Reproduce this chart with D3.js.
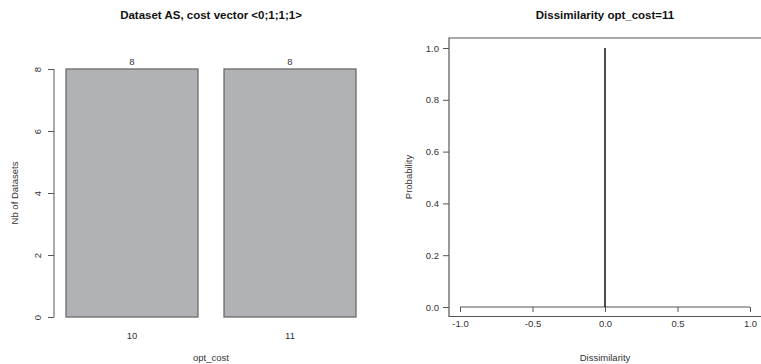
<!DOCTYPE html>
<html><head><meta charset="utf-8">
<script src="https://cdn.jsdelivr.net/npm/d3@7"></script>
<style>body{margin:0;background:#fff}svg{display:block;font-family:"Liberation Sans",Arial,sans-serif}</style>
</head><body><svg id="c" width="761" height="364"></svg>
<script>
const categories = ["10", "11"];
const counts = [8, 8];
const countTicks = [0, 2, 4, 6, 8];
const dissimValues = [0];
const probValues = [1];
const probTicks = [0, 0.2, 0.4, 0.6, 0.8, 1.0];
const dissimTicks = [-1, -0.5, 0, 0.5, 1];

const svg = d3.select("#c");
const axisCol = "#555";
const txtCol = "#333";
const fmt1 = v => d3.format(".1f")(v).replace("\u2212", "-");

// ---------- Left panel ----------
const xb = d3.scaleBand().domain(categories).range([66, 356]).paddingInner(0.1646).paddingOuter(0);
const yb = d3.scaleLinear().domain([0, 8]).range([317, 69]);

svg.append("text").attr("x", 211).attr("y", 19).attr("text-anchor", "middle")
  .attr("font-size", 11.5).attr("font-weight", "bold").attr("fill", "#111")
  .text("Dataset AS, cost vector <0;1;1;1>");

svg.selectAll("rect.bar").data(categories).enter().append("rect").attr("class", "bar")
  .attr("x", d => xb(d)).attr("width", xb.bandwidth())
  .attr("y", (d, i) => yb(counts[i])).attr("height", (d, i) => yb(0) - yb(counts[i]))
  .attr("fill", "#b1b2b5").attr("stroke", "#6a6a6a").attr("stroke-width", 1.3);

svg.selectAll("text.val").data(categories).enter().append("text").attr("class", "val")
  .attr("x", d => xb(d) + xb.bandwidth() / 2).attr("y", (d, i) => yb(counts[i]) - 4)
  .attr("text-anchor", "middle").attr("font-size", 9.5).attr("fill", txtCol)
  .text((d, i) => counts[i]);

svg.selectAll("text.cat").data(categories).enter().append("text").attr("class", "cat")
  .attr("x", d => xb(d) + xb.bandwidth() / 2).attr("y", 339)
  .attr("text-anchor", "middle").attr("font-size", 9.5).attr("fill", txtCol).text(d => d);

const gyl = svg.append("g").attr("transform", "translate(54,0)")
  .call(d3.axisLeft(yb).tickValues(countTicks).tickSize(6).tickFormat(d3.format("d")));
gyl.select(".domain").attr("stroke", axisCol).attr("d", `M0,${yb(0)}V${yb(8)}`);
gyl.selectAll(".tick line").attr("stroke", axisCol);
gyl.selectAll(".tick text").attr("font-size", 9.5).attr("fill", txtCol)
  .attr("font-family", "Liberation Sans, Arial, sans-serif")
  .attr("transform", "translate(-16,0) rotate(-90)").attr("x", 0).attr("y", 0)
  .attr("dy", "0.35em").attr("text-anchor", "middle");

svg.append("text").attr("transform", `translate(15,${(yb(0) + yb(8)) / 2}) rotate(-90)`)
  .attr("text-anchor", "middle").attr("dy", "0.35em").attr("font-size", 9.5).attr("fill", txtCol).text("Nb of Datasets");
svg.append("text").attr("x", 211).attr("y", 361).attr("text-anchor", "middle")
  .attr("font-size", 9.5).attr("fill", txtCol).text("opt_cost");

// ---------- Right panel ----------
const xr = d3.scaleLinear().domain([-1, 1]).range([460, 750]);
const yr = d3.scaleLinear().domain([0, 1]).range([307, 48]);

svg.append("text").attr("x", 605).attr("y", 19).attr("text-anchor", "middle")
  .attr("font-size", 11.5).attr("font-weight", "bold").attr("fill", "#111")
  .text("Dissimilarity opt_cost=11");

svg.append("path").attr("d", "M770,38H449V316.5H770").attr("fill", "none").attr("stroke", axisCol).attr("stroke-width", 1.2);

const gyr = svg.append("g").attr("transform", "translate(449,0)")
  .call(d3.axisLeft(yr).tickValues(probTicks).tickSize(6).tickPadding(4).tickFormat(fmt1));
gyr.select(".domain").remove();
gyr.selectAll(".tick line").attr("stroke", axisCol);
gyr.selectAll(".tick text").attr("font-size", 9.5).attr("fill", txtCol).attr("font-family", "Liberation Sans, Arial, sans-serif");

const gxr = svg.append("g").attr("transform", `translate(0,${yr(0)})`)
  .call(d3.axisBottom(xr).tickValues(dissimTicks).tickSize(5).tickPadding(8).tickFormat(fmt1));
gxr.select(".domain").attr("stroke", axisCol).attr("d", `M${xr(-1)},0H${xr(1)}`);
gxr.selectAll(".tick line").attr("stroke", axisCol);
gxr.selectAll(".tick text").attr("font-size", 9.5).attr("fill", txtCol).attr("font-family", "Liberation Sans, Arial, sans-serif");

svg.selectAll("line.spike").data(dissimValues).enter().append("line").attr("class", "spike")
  .attr("x1", d => xr(d)).attr("x2", d => xr(d))
  .attr("y1", yr(0)).attr("y2", (d, i) => yr(probValues[i]))
  .attr("stroke", "#111").attr("stroke-width", 1.5);

svg.append("text").attr("transform", `translate(409,177) rotate(-90)`)
  .attr("text-anchor", "middle").attr("dy", "0.35em").attr("font-size", 9.5).attr("fill", txtCol).text("Probability");
svg.append("text").attr("x", 605).attr("y", 361).attr("text-anchor", "middle")
  .attr("font-size", 9.5).attr("fill", txtCol).text("Dissimilarity");
</script></body></html>
